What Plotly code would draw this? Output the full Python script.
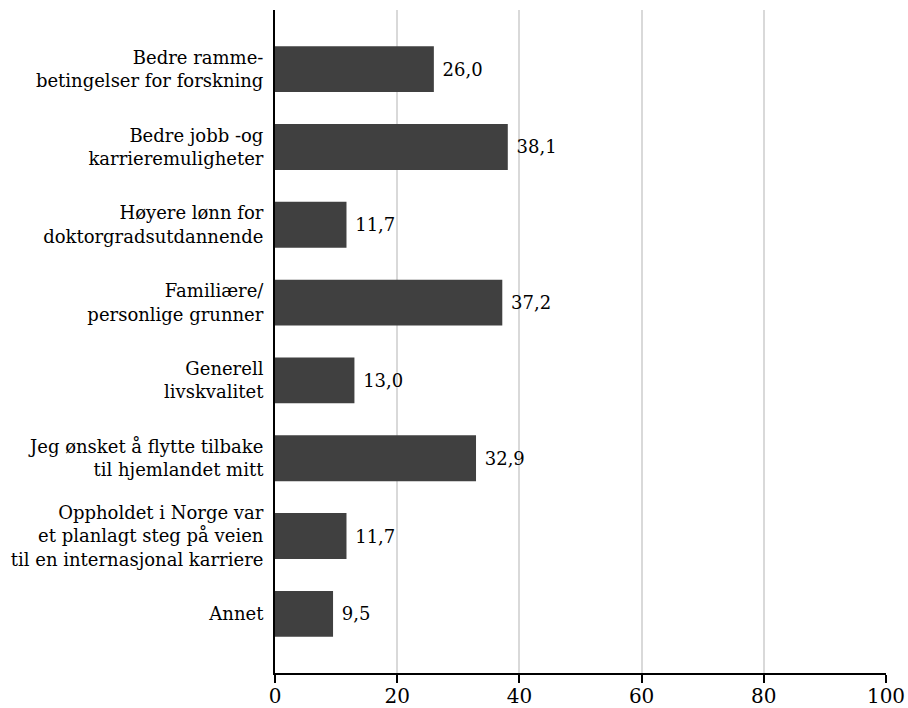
import plotly.graph_objects as go

labels = [
    "Bedre ramme-<br>betingelser for forskning",
    "Bedre jobb -og<br>karrieremuligheter",
    "Høyere lønn for<br>doktorgradsutdannende",
    "Familiære/<br>personlige grunner",
    "Generell<br>livskvalitet",
    "Jeg ønsket å flytte tilbake<br>til hjemlandet mitt",
    "Oppholdet i Norge var<br>et planlagt steg på veien<br>til en internasjonal karriere",
    "Annet",
]
values = [26.0, 38.1, 11.7, 37.2, 13.0, 32.9, 11.7, 9.5]
xticks = [0, 20, 40, 60, 80, 100]

font = "DejaVu Serif"

fig = go.Figure(go.Bar(
    x=values, y=labels, orientation="h",
    marker=dict(color="#404040", line=dict(width=0)),
    width=0.59,
    text=values, texttemplate=" %{x:.1f}", textposition="outside",
    textfont=dict(family=font, size=18, color="black"),
    cliponaxis=False,
))

fig.update_layout(
    width=908, height=708,
    margin=dict(l=275, r=22, t=10, b=35),
    plot_bgcolor="white", paper_bgcolor="white",
    separators=",.",
    showlegend=False,
    font=dict(family=font, color="black"),
)
fig.update_xaxes(
    range=[0, 100], tickvals=xticks, automargin=False,
    showgrid=True, gridcolor="#d9d9d9", gridwidth=2,
    zeroline=False,
    showline=True, linecolor="black", linewidth=2,
    ticks="outside", ticklen=8, tickwidth=1.5, tickcolor="black",
    ticklabelstandoff=-4,
    tickfont=dict(family=font, size=20),
)
fig.update_yaxes(
    range=[7.76, -0.76], automargin=False,
    showgrid=False, zeroline=False,
    showline=True, linecolor="black", linewidth=2,
    ticks="", ticklabelstandoff=6,
    tickfont=dict(family=font, size=18),
)

# drop the default page margin so the figure fills the window exactly
fig.write_html("out.html", config={"displayModeBar": False},
               post_script="document.body.style.margin='0';document.body.style.overflow='hidden';")
